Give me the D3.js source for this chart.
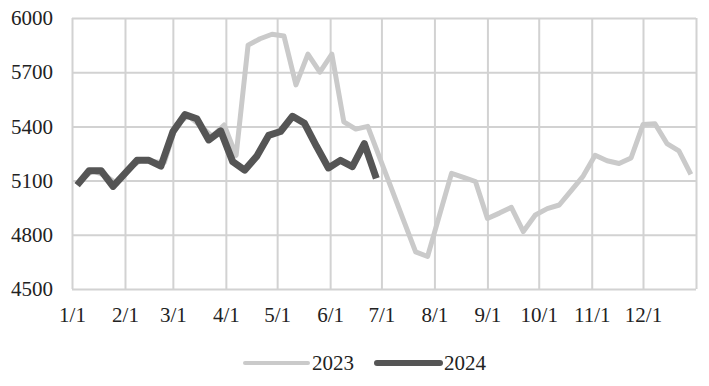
<!DOCTYPE html>
<html>
<head>
<meta charset="utf-8">
<script src="https://cdn.jsdelivr.net/npm/d3@7"></script>
<style>
  body { margin: 0; background: #fff; }
  svg { display: block; }
</style>
</head>
<body>
<div id="chart"></div>
<script>

// month ticks on a day-of-year axis
var monthLabels = ["1/1", "2/1", "3/1", "4/1", "5/1", "6/1", "7/1", "8/1", "9/1", "10/1", "11/1", "12/1"];
var monthStarts = [0, 31, 59, 90, 120, 151, 181, 212, 243, 273, 304, 334, 365];
var yTicks = [4500, 4800, 5100, 5400, 5700, 6000];

// weekly prices
var firstDate2023 = "2023-01-06";
var values2023 = [5100, 5155, 5130, 5085, 5165, 5212, 5205, 5200, 5410, 5458, 5405, 5345,
  5408, 5240, 5850, 5885, 5910, 5900, 5630, 5800, 5700, 5800, 5425, 5385, 5400,
  5226, 5053, 4879, 4705, 4680, 4910, 5140, 5118, 5095, 4890, 4920, 4952, 4818, 4910,
  4945, 4965, 5045, 5125, 5240, 5210, 5195, 5225, 5410, 5415, 5305, 5265, 5135];

var firstDate2024 = "2024-01-04";
var values2024 = [5075, 5155, 5155, 5068, 5140, 5212, 5212, 5180, 5370, 5465, 5442, 5325,
  5375, 5205, 5158, 5234, 5350, 5372, 5456, 5417, 5290, 5170, 5212, 5177, 5305, 5112];

var seriesNames = ["2023", "2024"];
var seriesColors = ["#cacaca", "#555555"];
var seriesWidths = [5, 7];

var width = 709,
  height = 386,
  margin = {top: 18, right: 13, bottom: 97, left: 72},
  innerWidth = width - margin.left - margin.right,
  innerHeight = height - margin.top - margin.bottom;

var parse = d3.timeParse("%Y-%m-%d");

function toSeries(first, values) {
  var d0 = parse(first);
  return values.map(function(v, i) {
    var d = d3.timeWeek.offset(d0, i);
    return {day: d3.timeDay.count(d3.timeYear(d), d), value: v};
  });
}

var data = [toSeries(firstDate2023, values2023), toSeries(firstDate2024, values2024)];

var xScale = d3.scaleLinear().domain([0, 365]).range([0, innerWidth]);
var yScale = d3.scaleLinear().domain([4500, 6000]).range([innerHeight, 0]);

var svg = d3.select("#chart").append("svg")
  .attr("width", width)
  .attr("height", height);

var g = svg.append("g")
  .attr("transform", "translate(" + margin.left + "," + margin.top + ")");

var font = "'Liberation Serif', 'Times New Roman', serif";

// horizontal grid + y labels
var yAxisG = g.append("g")
  .call(d3.axisLeft(yScale).tickValues(yTicks).tickSize(-innerWidth).tickPadding(19).tickFormat(d3.format("d")));
yAxisG.select(".domain").remove();
yAxisG.selectAll("line").attr("stroke", "#d2d2d2").attr("stroke-width", 2);
yAxisG.selectAll("text")
  .attr("font-family", font)
  .attr("font-size", "21px")
  .attr("fill", "#222");

// vertical grid at month starts + x labels
var xAxisG = g.append("g")
  .attr("transform", "translate(0," + innerHeight + ")")
  .call(d3.axisBottom(xScale).tickValues(monthStarts).tickSize(-innerHeight).tickPadding(18)
    .tickFormat(function(d, i) { return monthLabels[i] || ""; }));
xAxisG.select(".domain").remove();
xAxisG.selectAll("line").attr("stroke", "#d2d2d2").attr("stroke-width", 2);
xAxisG.selectAll("text")
  .attr("font-family", font)
  .attr("font-size", "21px")
  .attr("fill", "#222");

var line = d3.line()
  .x(function(d) { return xScale(d.day); })
  .y(function(d) { return yScale(d.value); });

g.selectAll(".series")
  .data(data)
  .enter().append("path")
  .attr("class", "series")
  .attr("d", line)
  .attr("fill", "none")
  .attr("stroke", function(d, i) { return seriesColors[i]; })
  .attr("stroke-width", function(d, i) { return seriesWidths[i]; })
  .attr("stroke-linejoin", "round");

// legend
var legendX = [245, 377];
var legend = svg.selectAll(".legend")
  .data(seriesNames)
  .enter().append("g")
  .attr("class", "legend")
  .attr("transform", function(d, i) { return "translate(" + legendX[i] + ",363)"; });

legend.append("line")
  .attr("x1", 0).attr("x2", 63)
  .attr("stroke", function(d, i) { return seriesColors[i]; })
  .attr("stroke-width", function(d, i) { return seriesWidths[i] - 1; })
  .attr("stroke-linecap", "round");

legend.append("text")
  .attr("x", 67)
  .attr("dy", "0.35em")
  .attr("font-family", font)
  .attr("font-size", "21px")
  .attr("fill", "#222")
  .text(function(d) { return d; });

</script>
</body>
</html>
